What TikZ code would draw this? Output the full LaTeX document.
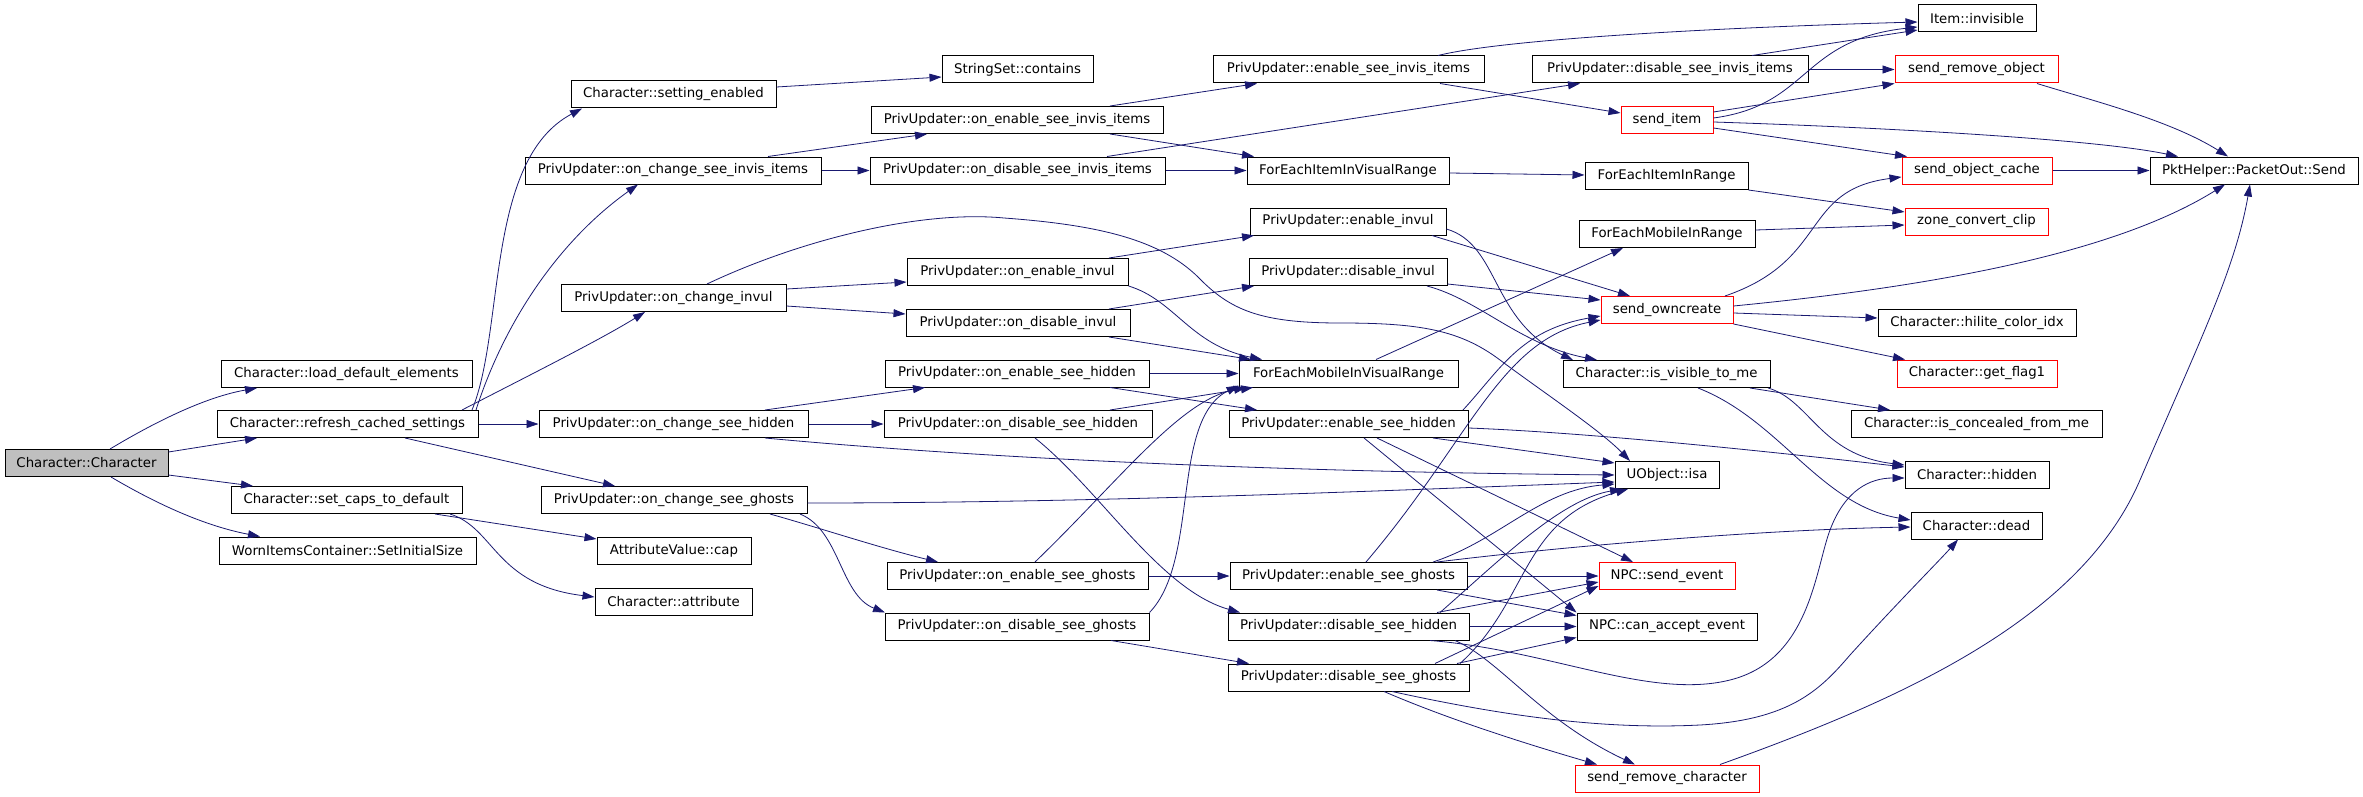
\documentclass[tikz,border=0pt]{standalone}
\usepackage{fontspec}
\setmainfont{DejaVu Sans}
\usetikzlibrary{arrows.meta}
\definecolor{edgeblue}{HTML}{191970}
\definecolor{rootgray}{HTML}{BFBFBF}

\begin{document}
\begin{tikzpicture}[x=1pt,y=-1pt,
fnbox/.style={rectangle,draw=black,line width=1pt,minimum height=27pt,inner sep=0pt,font=\fontsize{13.3}{16}\selectfont},
redbox/.style={fnbox,draw=red},
rootbox/.style={fnbox,fill=rootgray},
call/.style={-{Triangle[length=12pt,width=8pt]},edgeblue,line width=0.8pt}]

\path [fill=white] (0,0) rectangle (2363,797);
\useasboundingbox (0,0) rectangle (2363,797);

\node (cc) at (86.5,463) [rootbox,minimum width=163pt] {Character::Character};
\node (lde) at (346.5,374) [fnbox,minimum width=251pt] {Character::load\_default\_elements};
\node (rcs) at (347.5,424) [fnbox,minimum width=261pt] {Character::refresh\_cached\_settings};
\node (scd) at (346.5,500) [fnbox,minimum width=231pt] {Character::set\_caps\_to\_default};
\node (wic) at (347.5,550.5) [fnbox,minimum width=257pt] {WornItemsContainer::SetInitialSize};

\node (se) at (673.5,94.5) [fnbox,minimum width=205pt] {Character::setting\_enabled};
\node (ocsii) at (673,170.5) [fnbox,minimum width=296pt] {PrivUpdater::on\_change\_see\_invis\_items};
\node (ocinv) at (673.5,298) [fnbox,minimum width=225pt] {PrivUpdater::on\_change\_invul};
\node (ocsh) at (673.5,424) [fnbox,minimum width=269pt] {PrivUpdater::on\_change\_see\_hidden};
\node (ocsg) at (674,500) [fnbox,minimum width=266pt] {PrivUpdater::on\_change\_see\_ghosts};
\node (avc) at (674,550.5) [fnbox,minimum width=154pt] {AttributeValue::cap};
\node (cattr) at (673.5,601.5) [fnbox,minimum width=157pt] {Character::attribute};

\node (ssc) at (1017.5,69.5) [fnbox,minimum width=151pt] {StringSet::contains};
\node (oesii) at (1017,120) [fnbox,minimum width=292pt] {PrivUpdater::on\_enable\_see\_invis\_items};
\node (odsii) at (1017.5,170.5) [fnbox,minimum width=295pt] {PrivUpdater::on\_disable\_see\_invis\_items};
\node (oei) at (1017.5,272) [fnbox,minimum width=221pt] {PrivUpdater::on\_enable\_invul};
\node (odi) at (1018,323) [fnbox,minimum width=224pt] {PrivUpdater::on\_disable\_invul};
\node (oesh) at (1017,373.5) [fnbox,minimum width=264pt] {PrivUpdater::on\_enable\_see\_hidden};
\node (odsh) at (1018,424) [fnbox,minimum width=268pt] {PrivUpdater::on\_disable\_see\_hidden};
\node (oesg) at (1017.5,576) [fnbox,minimum width=261pt] {PrivUpdater::on\_enable\_see\_ghosts};
\node (odsg) at (1017,626.5) [fnbox,minimum width=264pt] {PrivUpdater::on\_disable\_see\_ghosts};

\node (esii) at (1348.5,69.5) [fnbox,minimum width=271pt] {PrivUpdater::enable\_see\_invis\_items};
\node (feivr) at (1348,170.5) [fnbox,minimum width=202pt] {ForEachItemInVisualRange};
\node (ei) at (1348,221.5) [fnbox,minimum width=196pt] {PrivUpdater::enable\_invul};
\node (di) at (1348,272) [fnbox,minimum width=198pt] {PrivUpdater::disable\_invul};
\node (femivr) at (1348.5,373.5) [fnbox,minimum width=219pt] {ForEachMobileInVisualRange};
\node (esh) at (1348.5,424) [fnbox,minimum width=239pt] {PrivUpdater::enable\_see\_hidden};
\node (esg) at (1348.5,576) [fnbox,minimum width=237pt] {PrivUpdater::enable\_see\_ghosts};
\node (dsh) at (1348.5,626.5) [fnbox,minimum width=241pt] {PrivUpdater::disable\_see\_hidden};
\node (dsg) at (1348.5,677.5) [fnbox,minimum width=241pt] {PrivUpdater::disable\_see\_ghosts};

\node (dsii) at (1670,69.5) [fnbox,minimum width=276pt] {PrivUpdater::disable\_see\_invis\_items};
\node (sitem) at (1667,120) [redbox,minimum width=92pt] {send\_item};
\node (feir) at (1666.5,176) [fnbox,minimum width=163pt] {ForEachItemInRange};
\node (femir) at (1667,234) [fnbox,minimum width=176pt] {ForEachMobileInRange};
\node (sown) at (1667,310) [redbox,minimum width=132pt] {send\_owncreate};
\node (ivtm) at (1666.5,374) [fnbox,minimum width=207pt] {Character::is\_visible\_to\_me};
\node (uisa) at (1667,475) [fnbox,minimum width=104pt] {UObject::isa};
\node (nse) at (1667,576) [redbox,minimum width=136pt] {NPC::send\_event};
\node (nca) at (1667,626.5) [fnbox,minimum width=180pt] {NPC::can\_accept\_event};
\node (src) at (1667,778.5) [redbox,minimum width=184pt] {send\_remove\_character};

\node (iinv) at (1977,18.5) [fnbox,minimum width=118pt] {Item::invisible};
\node (sro) at (1976.5,69.5) [redbox,minimum width=163pt] {send\_remove\_object};
\node (soc) at (1977,170.5) [redbox,minimum width=150pt] {send\_object\_cache};
\node (zcc) at (1976.5,221.5) [redbox,minimum width=143pt] {zone\_convert\_clip};
\node (hci) at (1977,323) [fnbox,minimum width=198pt] {Character::hilite\_color\_idx};
\node (gf1) at (1977,373.5) [redbox,minimum width=160pt] {Character::get\_flag1};
\node (icfm) at (1976.5,424) [fnbox,minimum width=251pt] {Character::is\_concealed\_from\_me};
\node (chid) at (1977,475) [fnbox,minimum width=144pt] {Character::hidden};
\node (cdead) at (1976.5,525.5) [fnbox,minimum width=131pt] {Character::dead};
\node (pkt) at (2254,170.5) [fnbox,minimum width=208pt] {PktHelper::PacketOut::Send};

\draw [call] ([xshift=23.5pt]cc.north) .. controls (145,428) and (200,398) .. ([xshift=-89.5pt]lde.south);
\draw [call] ([yshift=11pt]cc.east) -- ([xshift=-90.5pt]rcs.south);
\draw [call] ([yshift=-12pt]cc.east) -- ([xshift=-93.5pt]scd.north);
\draw [call] ([xshift=24.5pt]cc.south) .. controls (150,500) and (200,525) .. ([xshift=-87.5pt]wic.north);

\draw [call] ([xshift=124.5pt]rcs.north) .. controls (505,330) and (485,160) .. ([xshift=-91.5pt]se.south);
\draw [call] ([xshift=128.5pt]rcs.north) .. controls (505,320) and (560,240) .. ([xshift=-35pt]ocsii.south);
\draw [call] ([xshift=114.5pt]rcs.north) .. controls (520,380) and (600,340) .. ([xshift=-28.5pt]ocinv.south);
\draw [call] (rcs.east) -- (ocsh.west);
\draw [call] ([xshift=57.5pt]rcs.south) -- ([xshift=-59pt]ocsg.north);

\draw [call] ([xshift=88.5pt]scd.south) -- ([yshift=11.5pt]avc.west);
\draw [call] ([xshift=103.5pt]scd.south) .. controls (495,528) and (495,585) .. ([yshift=4.5pt]cattr.west);

\draw [call] ([yshift=7.5pt]se.east) -- ([yshift=-7.5pt]ssc.west);
\draw [call] ([xshift=95pt]ocsii.north) -- ([xshift=-90pt]oesii.south);
\draw [call] (ocsii.east) -- (odsii.west);
\draw [call] ([yshift=9pt]ocinv.east) -- ([yshift=-10pt]oei.west);
\draw [call] ([yshift=-8pt]ocinv.east) -- ([yshift=9pt]odi.west);
\draw [call] ([xshift=33.5pt]ocinv.north) .. controls (800,240) and (920,210) .. (1004,218) .. controls (1100,225) and (1160,240) .. (1198,277) .. controls (1230,310) and (1260,323) .. (1340,323) .. controls (1420,323) and (1460,330) .. (1500,360) .. controls (1540,390) and (1600,430) .. ([xshift=-37pt]uisa.north);
\draw [call] ([xshift=91.5pt]ocsh.north) -- ([xshift=-92pt]oesh.south);
\draw [call] (ocsh.east) -- (odsh.west);
\draw [call] ([xshift=91.5pt]ocsh.south) .. controls (1000,460) and (1300,472) .. (uisa.west);
\draw [call] ([xshift=96pt]ocsg.south) .. controls (820,528) and (880,548) .. ([xshift=-79.5pt]oesg.north);
\draw [call] ([xshift=126pt]ocsg.south) .. controls (840,530) and (840,595) .. ([xshift=-132pt]odsg.north);
\draw [call] ([yshift=-3pt]ocsg.east) .. controls (1100,503) and (1400,490) .. ([yshift=-7pt]uisa.west);

\draw [call] ([xshift=93pt]oesii.north) -- ([xshift=-91.5pt]esii.south);
\draw [call] ([xshift=93pt]oesii.south) -- ([xshift=-94pt]feivr.north);
\draw [call] ([xshift=89.5pt]odsii.north) -- ([xshift=-90pt]dsii.south);
\draw [call] (odsii.east) -- (feivr.west);
\draw [call] ([xshift=91.5pt]oei.north) -- ([xshift=-94pt]ei.south);
\draw [call] (oei.south east) .. controls (1175,300) and (1190,345) .. ([xshift=-86.5pt]femivr.north);
\draw [call] ([xshift=91pt]odi.north) -- ([xshift=-94pt]di.south);
\draw [call] ([xshift=91pt]odi.south) -- ([xshift=-97.5pt]femivr.north);
\draw [call] (oesh.east) -- (femivr.west);
\draw [call] ([xshift=93pt]oesh.south) -- ([xshift=-91.5pt]esh.north);
\draw [call] ([xshift=92pt]odsh.north) -- ([xshift=-95.5pt]femivr.south);
\draw [call] ([xshift=17pt]odsh.south) .. controls (1100,490) and (1160,590) .. ([xshift=-108.5pt]dsh.north);
\draw [call] ([xshift=17.5pt]oesg.north) .. controls (1120,480) and (1180,400) .. ([xshift=-102.5pt]femivr.south);
\draw [call] (oesg.east) -- (esg.west);
\draw [call] (odsg.north east) .. controls (1200,560) and (1170,420) .. ([yshift=2pt]femivr.south west);
\draw [call] ([xshift=94pt]odsg.south) -- ([xshift=-99.5pt]dsg.north);

\draw [call] ([xshift=89.5pt]esii.north) .. controls (1500,40) and (1700,28) .. ([yshift=-3.5pt]iinv.west);
\draw [call] ([xshift=91.5pt]esii.south) -- ([yshift=7pt]sitem.west);
\draw [call] ([yshift=-2.5pt]feivr.east) -- ([yshift=1pt]feir.west);
\draw [call] ([xshift=84pt]ei.south) -- ([xshift=-37pt]sown.north);
\draw [call] ([yshift=-7.5pt]ei.east) .. controls (1500,245) and (1490,320) .. ([xshift=-93.5pt]ivtm.north);
\draw [call] ([yshift=-12pt]di.east) -- ([yshift=10pt]sown.west);
\draw [call] ([xshift=79pt]di.south) .. controls (1480,300) and (1520,345) .. ([xshift=-69.5pt]ivtm.north);
\draw [call] ([xshift=27.5pt]femivr.north) -- ([xshift=-44pt]femir.south);

\draw [call] ([xshift=114.5pt]esh.north) .. controls (1500,370) and (1520,330) .. ([yshift=-6pt]sown.west);
\draw [call] ([xshift=84.5pt]esh.south) -- ([yshift=12pt]uisa.west);
\draw [call] ([yshift=-4pt]esh.east) .. controls (1600,433) and (1800,455) .. ([yshift=8pt]chid.west);
\draw [call] ([xshift=28.5pt]esh.south) -- ([xshift=-34pt]nse.north);
\draw [call] ([xshift=15.5pt]esh.south) -- (nca.north west);
\draw [call] ([xshift=17.5pt]esg.north) .. controls (1470,440) and (1500,340) .. ([yshift=-10pt]sown.west);
\draw [call] ([xshift=84.5pt]esg.north) .. controls (1500,540) and (1540,490) .. ([yshift=-9pt]uisa.west);
\draw [call] ([xshift=88.5pt]esg.north) .. controls (1550,548) and (1750,530) .. ([yshift=-1.5pt]cdead.west);
\draw [call] (esg.east) -- (nse.west);
\draw [call] ([xshift=88.5pt]esg.south) -- ([yshift=-3pt]nca.north west);
\draw [call] ([xshift=91.5pt]dsh.north) .. controls (1500,560) and (1560,500) .. ([xshift=-45pt]uisa.south);
\draw [call] ([xshift=88.5pt]dsh.north) -- ([yshift=-6pt]nse.west);
\draw [call] (dsh.east) -- (nca.west);
\draw [call] ([xshift=81.5pt]dsh.south) .. controls (1550,650) and (1650,700) .. (1730,680) .. controls (1810,660) and (1815,570) .. (1830,530) .. controls (1845,490) and (1870,478) .. ([yshift=-3pt]chid.west);
\draw [call] ([xshift=106.5pt]dsh.south) .. controls (1500,660) and (1540,720) .. ([xshift=-32pt]src.north);
\draw [call] ([xshift=111.5pt]dsg.north) .. controls (1530,600) and (1520,520) .. ([xshift=-39pt]uisa.south);
\draw [call] ([xshift=86.5pt]dsg.north) -- ([yshift=-10pt]nse.west);
\draw [call] ([xshift=108.5pt]dsg.north) -- ([yshift=3pt]nca.south west);
\draw [call] ([xshift=43.5pt]dsg.south) .. controls (1500,715) and (1600,730) .. (1700,725) .. controls (1790,720) and (1820,690) .. (1850,655) .. controls (1900,600) and (1940,560) .. ([xshift=-18.5pt]cdead.south);
\draw [call] ([xshift=35.5pt]dsg.south) .. controls (1450,720) and (1530,745) .. ([xshift=-70pt]src.north);

\draw [call] ([xshift=82pt]dsii.north) -- ([yshift=-11.5pt]iinv.west);
\draw [call] (dsii.east) -- (sro.west);
\draw [call] ([yshift=2pt]sitem.east) .. controls (1810,105) and (1800,40) .. ([yshift=-8.5pt]iinv.west);
\draw [call] ([yshift=8pt]sitem.east) -- (sro.south west);
\draw [call] ([yshift=-2pt]sitem.east) .. controls (1900,128) and (2100,140) .. ([xshift=-76pt]pkt.north);
\draw [call] ([yshift=-8pt]sitem.east) -- ([xshift=-70pt]soc.north);
\draw [call] (feir.south east) -- ([yshift=9.5pt]zcc.west);
\draw [call] ([yshift=4pt]femir.east) -- ([yshift=-3.5pt]zcc.west);
\draw [call] ([xshift=58pt]sown.north) .. controls (1830,260) and (1800,190) .. ([yshift=-6.5pt]soc.west);
\draw [call] ([yshift=4pt]sown.east) .. controls (1950,285) and (2120,250) .. ([xshift=-29pt]pkt.south);
\draw [call] ([yshift=-3pt]sown.east) -- ([yshift=5pt]hci.west);
\draw [call] (sown.south east) -- ([xshift=-72pt]gf1.north);
\draw [call] ([xshift=83.5pt]ivtm.south) -- ([xshift=-86.5pt]icfm.north);
\draw [call] ([xshift=101.5pt]ivtm.south) .. controls (1810,400) and (1820,455) .. ([yshift=10pt]chid.west);
\draw [call] ([xshift=31.5pt]ivtm.south) .. controls (1780,420) and (1820,505) .. ([yshift=5.5pt]cdead.west);
\draw [call] ([xshift=53pt]src.north) .. controls (1900,700) and (2080,620) .. (2140,480) .. controls (2200,340) and (2235,270) .. ([xshift=-4pt]pkt.south);

\draw [call] ([xshift=60.5pt]sro.south) .. controls (2090,100) and (2170,120) .. ([xshift=-26pt]pkt.north);
\draw [call] (soc.east) -- (pkt.west);

\end{tikzpicture}
\end{document}
